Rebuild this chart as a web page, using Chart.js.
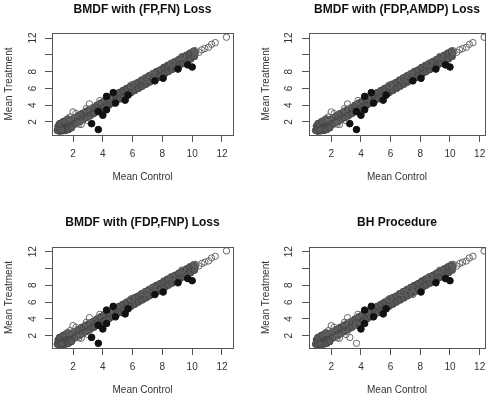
<!DOCTYPE html>
<html>
<head>
<meta charset="utf-8">
<script src="https://cdn.jsdelivr.net/npm/chart.js@4.4.0/dist/chart.umd.min.js"></script>
<style>
  body { margin: 0; background: #fff; }
  .panel { position: absolute; }
</style>
</head>
<body>
<div class="panel" style="left:0;top:0;width:248px;height:204px"><canvas id="c1"></canvas></div>
<div class="panel" style="left:248px;top:0;width:247px;height:204px"><canvas id="c2"></canvas></div>
<div class="panel" style="left:0;top:204px;width:248px;height:204px"><canvas id="c3"></canvas></div>
<div class="panel" style="left:248px;top:204px;width:247px;height:204px"><canvas id="c4"></canvas></div>
<script>
// panel titles
const titles = ['BMDF with (FP,FN) Loss', 'BMDF with (FDP,AMDP) Loss', 'BMDF with (FDP,FNP) Loss', 'BH Procedure']

const xTicks = [2, 4, 6, 8, 10, 12]
const yTicks = [2, 4, 6, 8, 10, 12]
const yTickLabels = ['2', '4', '6', '8', '', '12']

// dense bulk of genes along the diagonal (mean control, mean treatment)
const bandX = [
  1.0, 1.2, 1.4, 1.6, 1.8, 2.0, 2.25, 2.5, 2.75, 3.0, 3.25, 3.5, 3.75, 4.0, 4.25, 4.5, 4.75, 5.0, 5.25, 5.5,
  5.75, 6.0, 6.25, 6.5, 6.75, 7.0, 7.25, 7.5, 7.75, 8.0, 8.25, 8.5, 8.75, 9.0, 9.25, 9.5, 9.75, 10.0, 10.2,
  1.0, 1.2, 1.4, 1.6, 1.85, 2.1, 2.35, 2.6, 2.85, 3.1, 3.35, 3.6, 3.85, 4.1, 4.35, 4.6, 4.85, 5.1, 5.35, 5.6,
  5.85, 6.1, 6.35, 6.6, 6.85, 7.1, 7.35, 7.6, 7.85, 8.1, 8.35, 8.6, 8.85, 9.1, 9.35, 9.6, 9.85, 10.1,
  1.1, 1.3, 1.5, 1.7, 1.9, 2.15, 2.4, 2.65, 2.9, 3.15, 3.4, 3.65, 3.9, 4.15, 4.4, 4.65, 4.9, 5.15, 5.4, 5.65,
  5.9, 6.15, 6.4, 6.65, 6.9, 7.15, 7.4, 7.65, 7.9, 8.15, 8.4, 8.65, 8.9, 9.15, 9.4, 9.65, 9.9, 10.15,
  0.95, 1.05, 1.15, 1.3, 1.45, 1.5, 1.7, 1.9, 1.25, 1.6, 1.1, 1.35
]
const bandY = [
  1.1, 1.25, 1.4, 1.6, 1.8, 2.0, 2.2, 2.5, 2.75, 3.0, 3.2, 3.5, 3.8, 3.95, 4.3, 4.5, 4.7, 5.0, 5.3, 5.45,
  5.8, 6.05, 6.2, 6.5, 6.8, 7.0, 7.2, 7.55, 7.75, 8.0, 8.2, 8.5, 8.8, 9.0, 9.2, 9.5, 9.8, 10.0, 10.2,
  1.5, 1.65, 1.85, 2.0, 2.25, 2.5, 2.75, 3.0, 3.25, 3.5, 3.7, 4.0, 4.25, 4.5, 4.75, 5.0, 5.25, 5.5, 5.75, 6.0,
  6.25, 6.5, 6.7, 7.0, 7.25, 7.5, 7.75, 8.0, 8.2, 8.5, 8.75, 9.0, 9.2, 9.45, 9.7, 9.95, 10.2, 10.45,
  0.9, 0.95, 1.1, 1.3, 1.5, 1.75, 2.0, 2.25, 2.5, 2.75, 3.0, 3.25, 3.5, 3.75, 4.0, 4.25, 4.5, 4.75, 5.0, 5.25,
  5.5, 5.75, 6.0, 6.25, 6.5, 6.75, 7.0, 7.25, 7.5, 7.75, 8.0, 8.25, 8.5, 8.75, 9.0, 9.25, 9.5, 9.8,
  1.0, 1.35, 1.65, 1.9, 2.1, 1.0, 1.1, 1.3, 1.05, 2.3, 1.8, 2.05
]

// scattered genes not declared different
const otherX = [1.65, 2.0, 2.2, 2.55, 2.9, 3.1, 3.8, 3.0, 2.4, 1.8, 6.8, 7.3, 9.3, 10.2, 10.45, 10.65, 10.85, 11.1, 11.3, 11.55, 12.3, 5.9, 8.6, 4.4]
const otherY = [2.4, 3.2, 3.0, 1.7, 3.6, 4.15, 4.55, 2.15, 1.75, 2.6, 7.15, 7.6, 9.8, 10.5, 10.3, 10.6, 10.75, 10.9, 11.25, 11.45, 12.1, 6.4, 9.0, 4.9]

// candidate genes off the diagonal
const candX = [3.25, 3.7, 3.7, 4.0, 4.25, 4.25, 4.7, 4.85, 5.5, 5.7, 7.5, 8.05, 9.05, 9.7, 10.0]
const candY = [1.8, 1.1, 3.25, 2.8, 3.45, 5.05, 5.5, 4.25, 4.6, 5.2, 6.9, 7.2, 8.3, 8.8, 8.55]

// 1 = declared differentially expressed by the method
const callsFPFN    = [1, 1, 1, 1, 1, 1, 1, 1, 1, 1, 1, 1, 1, 1, 1]
const callsFDPAMDP = [1, 1, 1, 1, 1, 1, 1, 1, 1, 1, 1, 1, 1, 1, 1]
const callsFDPFNP  = [1, 1, 1, 1, 1, 1, 1, 1, 1, 1, 1, 1, 1, 1, 1]
const callsBH      = [0, 0, 0, 1, 1, 1, 1, 1, 1, 1, 0, 1, 1, 1, 1]

const calls = [callsFPFN, callsFDPAMDP, callsFDPFNP, callsBH]

const toPoints = (xs, ys) => xs.map((x, i) => ({ x: x, y: ys[i] }))

const framePlugin = {
  id: 'frame',
  afterDraw(chart) {
    const { ctx, chartArea: a } = chart
    ctx.save()
    ctx.strokeStyle = '#555'
    ctx.lineWidth = 1
    ctx.strokeRect(Math.round(a.left) + 0.5, Math.round(a.top) + 0.5,
      Math.round(a.right - a.left), Math.round(a.bottom - a.top))
    ctx.restore()
  }
}

// layout of each panel, tuned to the reference
const layouts = [
  { x: [0.59, 12.74], y: [0.45, 12.6], right: 15, title: [2.8, 15.8], xh: 69, xtp: 6, xtitle: 20.3, yw: 52, ytp: 6.4, ytitle: 3 },
  { x: [0.5, 12.36], y: [0.45, 12.6], right: 10, title: [2.8, 15.8], xh: 69, xtp: 6, xtitle: 20.3, yw: 61, ytp: 7.4, ytitle: 12.3 },
  { x: [0.59, 12.74], y: [0.54, 12.56], right: 15, title: [11.1, 17.5], xh: 60, xtp: 6.3, xtitle: 11.3, yw: 52, ytp: 6.4, ytitle: 3 },
  { x: [0.5, 12.36], y: [0.54, 12.56], right: 10, title: [11.1, 17.5], xh: 60, xtp: 6.3, xtitle: 11.3, yw: 61, ytp: 7.4, ytitle: 12.3 }
]

const axisFont = { family: 'Liberation Sans, Arial, sans-serif', size: 10 }
const axisGrid = { drawOnChartArea: false, drawTicks: true, tickLength: 7, color: '#555', lineWidth: 1 }

function makePanel(i) {
  const l = layouts[i]
  const flags = calls[i]
  const filled = []
  const open = toPoints(otherX, otherY)
  candX.forEach((x, k) => {
    if (flags[k]) filled.push({ x: x, y: candY[k] })
    else open.push({ x: x, y: candY[k] })
  })

  return new Chart(document.getElementById('c' + (i + 1)), {
    type: 'scatter',
    data: {
      datasets: [
        {
          data: filled,
          pointRadius: 3.3,
          pointBackgroundColor: '#111',
          pointBorderColor: '#111',
          pointBorderWidth: 1
        },
        {
          data: open,
          pointRadius: 3.2,
          pointBackgroundColor: 'rgba(255,255,255,0)',
          pointBorderColor: '#666',
          pointBorderWidth: 1
        },
        {
          data: toPoints(bandX, bandY),
          pointRadius: 3.3,
          pointBackgroundColor: '#575757',
          pointBorderColor: '#464646',
          pointBorderWidth: 1
        }
      ]
    },
    options: {
      responsive: true,
      maintainAspectRatio: false,
      animation: false,
      layout: { padding: { left: 0, right: l.right, top: 0, bottom: 0 } },
      plugins: {
        legend: { display: false },
        tooltip: { enabled: false },
        title: {
          display: true,
          text: titles[i],
          fullSize: false,
          color: '#111',
          font: { family: 'Liberation Sans, Arial, sans-serif', size: 12, weight: 'bold' },
          padding: { top: l.title[0], bottom: l.title[1] }
        }
      },
      scales: {
        x: {
          type: 'linear',
          min: l.x[0],
          max: l.x[1],
          afterBuildTicks: s => { s.ticks = xTicks.map(v => ({ value: v })) },
          afterFit: s => { s.height = l.xh },
          grid: axisGrid,
          border: { display: false },
          ticks: { color: '#333', font: axisFont, padding: l.xtp, maxRotation: 0 },
          title: { display: true, text: 'Mean Control', color: '#333', font: axisFont, padding: { top: 0, bottom: l.xtitle } }
        },
        y: {
          type: 'linear',
          min: l.y[0],
          max: l.y[1],
          afterBuildTicks: s => { s.ticks = yTicks.map(v => ({ value: v })) },
          afterFit: s => { s.width = l.yw },
          grid: axisGrid,
          border: { display: false },
          ticks: {
            color: '#333', font: axisFont, padding: l.ytp, minRotation: 90, maxRotation: 90, crossAlign: 'center',
            callback: v => yTickLabels[yTicks.indexOf(v)]
          },
          title: { display: true, text: 'Mean Treatment', color: '#333', font: axisFont, padding: { top: l.ytitle, bottom: 0 } }
        }
      }
    },
    plugins: [framePlugin]
  })
}

for (let i = 0; i < 4; i++) makePanel(i)
</script>
</body>
</html>
